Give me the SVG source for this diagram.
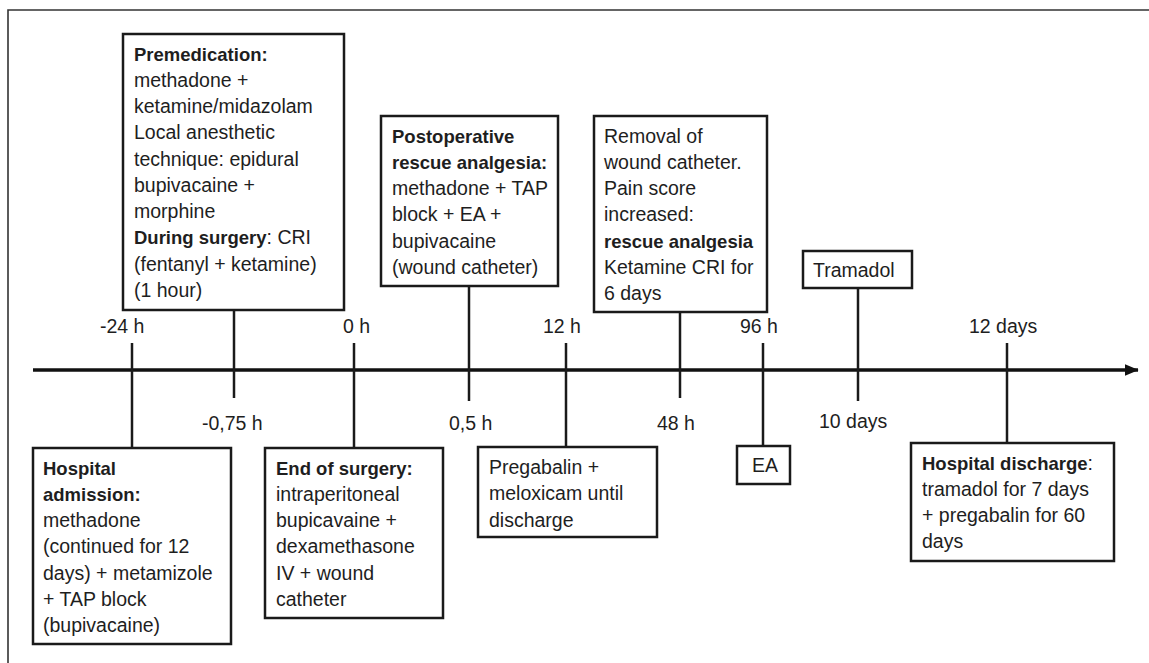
<svg xmlns="http://www.w3.org/2000/svg" width="1149" height="663" viewBox="0 0 1149 663">
<defs>
<style>
.box{fill:#fff;stroke:#1a1a1a;stroke-width:2.5}
.con{stroke:#1a1a1a;stroke-width:2.5;fill:none}
.axis{stroke:#111;stroke-width:3.5;fill:none}
text{font-family:"Liberation Sans",Arial,sans-serif;font-size:19.5px;fill:#1e1e1e}
.b{font-weight:bold;font-size:18.5px}
</style>
<marker id="arr" markerWidth="4" markerHeight="4" refX="3.8" refY="2" orient="auto" markerUnits="strokeWidth">
<path d="M0,0.3 L4,2 L0,3.7 Z" fill="#111"/>
</marker>
</defs>
<rect x="0" y="0" width="1149" height="663" fill="#fff"/>
<path d="M8,670 L8,10 L1160,10" fill="none" stroke="#333" stroke-width="1.6"/>

<g id="connectors">
<line class="axis" x1="33" y1="370" x2="1138" y2="370" marker-end="url(#arr)"/>
<line class="con" x1="132" y1="343" x2="132" y2="448"/>
<line class="con" x1="234" y1="310" x2="234" y2="398"/>
<line class="con" x1="354" y1="343" x2="354" y2="448"/>
<line class="con" x1="469" y1="286" x2="469" y2="401"/>
<line class="con" x1="566" y1="343" x2="566" y2="447"/>
<line class="con" x1="680" y1="312" x2="680" y2="398"/>
<line class="con" x1="763" y1="343" x2="763" y2="446"/>
<line class="con" x1="858" y1="288" x2="858" y2="401"/>
<line class="con" x1="1007" y1="343" x2="1007" y2="443"/>
</g>

<g id="tick-labels">
<text x="100" y="333">-24 h</text>
<text x="343" y="333">0 h</text>
<text x="543" y="333">12 h</text>
<text x="740" y="333">96 h</text>
<text x="969" y="333">12 days</text>
<text x="202" y="430">-0,75 h</text>
<text x="449" y="430">0,5 h</text>
<text x="657" y="430">48 h</text>
<text x="819" y="428">10 days</text>
</g>

<g id="premedication">
<rect class="box" x="123" y="34" width="221" height="276"/>
<text class="b" x="134" y="61">Premedication:</text>
<text x="134" y="87">methadone +</text>
<text x="134" y="113">ketamine/midazolam</text>
<text x="134" y="139">Local anesthetic</text>
<text x="134" y="166">technique: epidural</text>
<text x="134" y="192">bupivacaine +</text>
<text x="134" y="218">morphine</text>
<text x="134" y="244"><tspan class="b">During surgery</tspan>: CRI</text>
<text x="134" y="271">(fentanyl + ketamine)</text>
<text x="134" y="297">(1 hour)</text>
</g>

<g id="postoperative">
<rect class="box" x="381" y="116" width="177" height="170"/>
<text class="b" x="392" y="143">Postoperative</text>
<text class="b" x="392" y="169">rescue analgesia:</text>
<text x="392" y="195">methadone + TAP</text>
<text x="392" y="221">block + EA +</text>
<text x="392" y="248">bupivacaine</text>
<text x="392" y="274">(wound catheter)</text>
</g>

<g id="removal">
<rect class="box" x="594" y="116" width="173" height="196"/>
<text x="604" y="143">Removal of</text>
<text x="604" y="169">wound catheter.</text>
<text x="604" y="195">Pain score</text>
<text x="604" y="221">increased:</text>
<text class="b" x="604" y="248">rescue analgesia</text>
<text x="604" y="274">Ketamine CRI for</text>
<text x="604" y="300">6 days</text>
</g>

<g id="tramadol">
<rect class="box" x="803" y="251" width="109" height="37"/>
<text x="813" y="277">Tramadol</text>
</g>

<g id="admission">
<rect class="box" x="33" y="448" width="198" height="196"/>
<text class="b" x="43" y="475">Hospital</text>
<text class="b" x="43" y="501">admission:</text>
<text x="43" y="527">methadone</text>
<text x="43" y="553">(continued for 12</text>
<text x="43" y="580">days) + metamizole</text>
<text x="43" y="606">+ TAP block</text>
<text x="43" y="632">(bupivacaine)</text>
</g>

<g id="end-of-surgery">
<rect class="box" x="265" y="448" width="178" height="170"/>
<text class="b" x="276" y="475">End of surgery:</text>
<text x="276" y="501">intraperitoneal</text>
<text x="276" y="527">bupicavaine +</text>
<text x="276" y="553">dexamethasone</text>
<text x="276" y="580">IV + wound</text>
<text x="276" y="606">catheter</text>
</g>

<g id="pregabalin">
<rect class="box" x="478" y="447" width="179" height="90"/>
<text x="489" y="474">Pregabalin +</text>
<text x="489" y="500">meloxicam until</text>
<text x="489" y="527">discharge</text>
</g>

<g id="ea">
<rect class="box" x="737" y="446" width="53" height="38"/>
<text x="752" y="472">EA</text>
</g>

<g id="discharge">
<rect class="box" x="911" y="443" width="203" height="118"/>
<text x="922" y="470"><tspan class="b">Hospital discharge</tspan>:</text>
<text x="922" y="496">tramadol for 7 days</text>
<text x="922" y="522">+ pregabalin for 60</text>
<text x="922" y="548">days</text>
</g>
</svg>
